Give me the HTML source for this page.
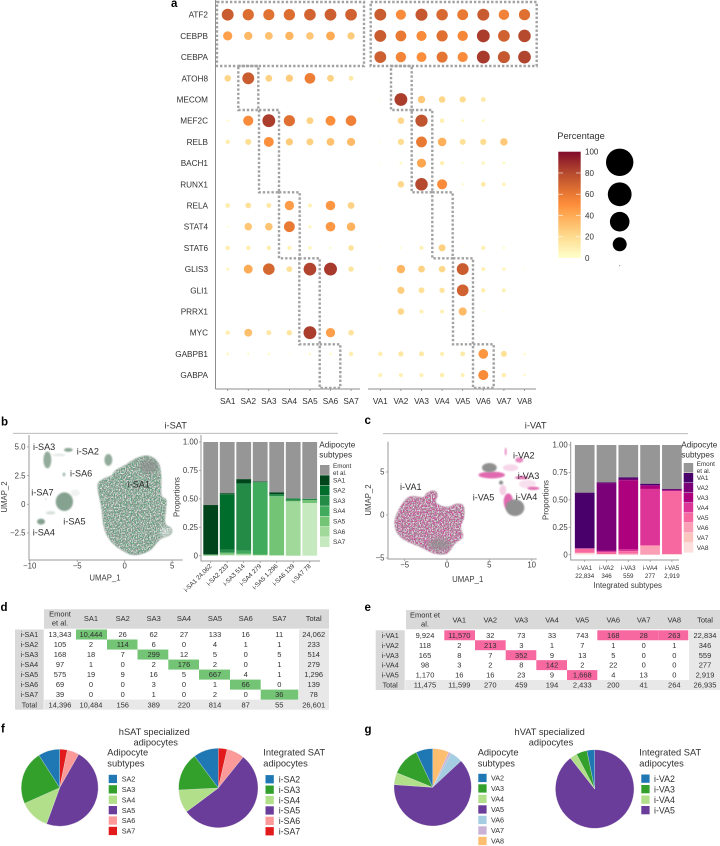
<!DOCTYPE html>
<html lang="en">
<head>
<meta charset="utf-8">
<title>Adipocyte subtypes figure</title>
<style>
html,body{margin:0;padding:0;background:#fff;width:720px;height:846px;overflow:hidden}
svg{display:block;font-family:"Liberation Sans",sans-serif;fill:#303030}
.pl{font-weight:bold;font-size:11.5px;fill:#000}
.hd{font-size:9.3px}
.cl{font-size:9.1px;fill:#2a2a2a}
.ax{font-size:7.8px;fill:#3c3c3c}
.dr{fill:none;stroke:#a2a2a2;stroke-width:2.4;stroke-dasharray:2.4 1.9}
</style>
</head>
<body>
<svg id="figure" width="720" height="846" viewBox="0 0 720 846" xmlns="http://www.w3.org/2000/svg">
<defs>
<linearGradient id="pct-grad" x1="0" y1="1" x2="0" y2="0">
<stop offset="0" stop-color="#ffffcc"/><stop offset=".2" stop-color="#fedc90"/><stop offset=".4" stop-color="#feab55"/><stop offset=".5" stop-color="#fd8f3c"/><stop offset=".6" stop-color="#e97a33"/><stop offset=".8" stop-color="#b64a2e"/><stop offset="1" stop-color="#7f0b2b"/>
</linearGradient>
<filter id="soft-1" x="-20%" y="-20%" width="140%" height="140%"><feGaussianBlur stdDeviation="0.9"/></filter>
<filter id="soft-2" x="-40%" y="-40%" width="180%" height="180%"><feGaussianBlur stdDeviation="2.2"/></filter>
<filter id="speck-green" x="0" y="0" width="100%" height="100%" color-interpolation-filters="sRGB"><feGaussianBlur in="SourceGraphic" stdDeviation="0.9" result="shape"/><feTurbulence type="fractalNoise" baseFrequency="0.71 0.83" numOctaves="2" seed="4"/><feColorMatrix values="0 0 0 0 .24  0 0 0 0 .66  0 0 0 0 .42  3.6 0 0 0 -1.55"/><feComposite in2="shape" operator="in"/></filter>
<filter id="speck-white" x="0" y="0" width="100%" height="100%" color-interpolation-filters="sRGB"><feGaussianBlur in="SourceGraphic" stdDeviation="0.9" result="shape"/><feTurbulence type="fractalNoise" baseFrequency="0.83 0.67" numOctaves="2" seed="11"/><feColorMatrix values="0 0 0 0 .9  0 0 0 0 .9  0 0 0 0 .9  0 3.6 0 0 -1.55"/><feComposite in2="shape" operator="in"/></filter>
<filter id="speck-pink" x="0" y="0" width="100%" height="100%" color-interpolation-filters="sRGB"><feGaussianBlur in="SourceGraphic" stdDeviation="0.9" result="shape"/><feTurbulence type="fractalNoise" baseFrequency="0.73 0.79" numOctaves="2" seed="7"/><feColorMatrix values="0 0 0 0 .86  0 0 0 0 .22  0 0 0 0 .6  4 0 0 0 -1.6"/><feComposite in2="shape" operator="in"/></filter>
</defs>

<text class="pl" x="171" y="7">a</text>
<text class="pl" x="1" y="425.5">b</text>
<text class="pl" x="364.5" y="424">c</text>
<text class="pl" x="0.5" y="611">d</text>
<text class="pl" x="364.5" y="611">e</text>
<text class="pl" x="1" y="732.5">f</text>
<text class="pl" x="364.5" y="733">g</text>

<!-- panel a frames -->
<g id="dotplot"></g>
<g>
<rect class="dr" x="217" y="2" width="147" height="64"/>
<rect class="dr" x="370.7" y="2" width="166" height="64"/>
<rect class="dr" x="238.3" y="66" width="20" height="44"/>
<rect class="dr" x="259" y="110" width="20" height="82.3"/>
<rect class="dr" x="279" y="192.3" width="20.7" height="66"/>
<rect class="dr" x="299.3" y="258.3" width="20.4" height="86"/>
<rect class="dr" x="319.7" y="344.3" width="20.6" height="43.7"/>
<rect class="dr" x="391" y="66" width="20.7" height="44"/>
<rect class="dr" x="411.7" y="110" width="20.6" height="82.3"/>
<rect class="dr" x="432.3" y="192.3" width="20.4" height="66"/>
<rect class="dr" x="453" y="258.3" width="20" height="86"/>
<rect class="dr" x="473" y="344.3" width="20.7" height="43.7"/>
</g>

<!-- percentage legend -->
<g>
<text x="557.3" y="139" font-size="9.3">Percentage</text>
<rect x="558.3" y="151.7" width="22.4" height="106.3" fill="url(#pct-grad)"/>
<g id="pct-ticks"></g>
<circle cx="619.7" cy="162.3" r="13.7" fill="#000"/>
<circle cx="619.7" cy="194.3" r="11.9" fill="#000"/>
<circle cx="619.7" cy="221.7" r="9.8" fill="#000"/>
<circle cx="619.7" cy="244.3" r="7" fill="#000"/>
<circle cx="619.7" cy="265.7" r="0.5" fill="#555"/>
</g>

<!-- panel b -->
<text class="hd" x="175.7" y="428.7" text-anchor="middle">i-SAT</text>
<line x1="13" x2="338" y1="433.3" y2="433.3" stroke="#b0b0b0" stroke-width="0.9"/>
<g id="umap-sat"></g>
<text class="ax" transform="translate(7,497) rotate(-90)" text-anchor="middle">UMAP_2</text>
<text class="ax" x="105" y="580.5" text-anchor="middle">UMAP_1</text>
<text class="cl" x="33" y="450">i-SA3</text>
<text class="cl" x="76.7" y="454.7">i-SA2</text>
<text class="cl" x="70" y="476.7">i-SA6</text>
<text class="cl" x="127.7" y="487.7">i-SA1</text>
<text class="cl" x="31.3" y="495.3">i-SA7</text>
<text class="cl" x="63.3" y="524.7">i-SA5</text>
<text class="cl" x="32.7" y="535.7">i-SA4</text>
<g id="bars-sat"></g>
<text class="ax" transform="translate(179.5,497) rotate(-90)" text-anchor="middle">Proportions</text>
<text x="319.3" y="447.7" font-size="8.2">Adipocyte</text>
<text x="319.3" y="457.3" font-size="8.2">subtypes</text>

<!-- panel c -->
<text class="hd" x="535.7" y="428.7" text-anchor="middle">i-VAT</text>
<line x1="383" x2="688" y1="433.7" y2="433.7" stroke="#b0b0b0" stroke-width="0.9"/>
<g id="umap-vat"></g>
<text class="ax" transform="translate(371,500) rotate(-90)" text-anchor="middle">UMAP_2</text>
<text class="ax" x="467.7" y="582" text-anchor="middle">UMAP_1</text>
<text class="cl" x="513" y="458.3">i-VA2</text>
<text class="cl" x="517.7" y="479">i-VA3</text>
<text class="cl" x="400" y="490">i-VA1</text>
<text class="cl" x="515.7" y="500">i-VA4</text>
<text class="cl" x="472.7" y="500.7">i-VA5</text>
<g id="bars-vat"></g>
<text class="ax" transform="translate(548.5,500) rotate(-90)" text-anchor="middle">Proportions</text>
<text class="ax" x="627.7" y="588" text-anchor="middle">Integrated subtypes</text>
<text x="681.3" y="447.7" font-size="8.2">Adipocyte</text>
<text x="681.3" y="457.3" font-size="8.2">subtypes</text>

<!-- tables -->
<g id="table-d"></g>
<g id="table-e"></g>

<!-- pies -->
<text class="hd" x="154.3" y="735" text-anchor="middle">hSAT specialized</text>
<text class="hd" x="155.7" y="745.7" text-anchor="middle">adipocytes</text>
<text class="hd" x="549.7" y="735" text-anchor="middle">hVAT specialized</text>
<text class="hd" x="551" y="745.7" text-anchor="middle">adipocytes</text>
<text class="hd" x="107.3" y="755.7">Adipocyte</text>
<text class="hd" x="107.3" y="766.3">subtypes</text>
<text class="hd" x="263.3" y="755.7">Integrated SAT</text>
<text class="hd" x="263.3" y="766.3">adipocytes</text>
<text class="hd" x="477.7" y="755.7">Adipocyte</text>
<text class="hd" x="477.7" y="766.3">subtypes</text>
<text class="hd" x="639.3" y="755.7">Integrated SAT</text>
<text class="hd" x="639.3" y="766.3">adipocytes</text>
<g id="pies"></g>
</svg>

<script>
// ---------- panel a data (percentage per gene) ----------
const genes = ['ATF2','CEBPB','CEBPA','ATOH8','MECOM','MEF2C','RELB','BACH1','RUNX1','RELA','STAT4','STAT6','GLIS3','GLI1','PRRX1','MYC','GABPB1','GABPA'];
const satColumns = ['SA1','SA2','SA3','SA4','SA5','SA6','SA7'];
const vatColumns = ['VA1','VA2','VA3','VA4','VA5','VA6','VA7','VA8'];
const satPercent = [
 [72,65,63,65,69,71,70],
 [44,35,31,36,29,40,27],
 [0,0,0,0,0,0,0],
 [22,72,24,27,58,24,12],
 [0,0,0,0,0,0,0],
 [3,52,84,64,24,50,57],
 [10,19,50,27,25,31,34],
 [0,0,0,0,0,0,0],
 [0,0,0,0,0,0,0],
 [11,17,13,45,8,47,24],
 [2,29,30,60,5,47,37],
 [10,10,10,8,6,3,16],
 [5,40,68,17,82,85,15],
 [0,0,0,0,0,0,0],
 [0,0,0,0,0,0,0],
 [10,32,13,15,84,44,16],
 [4,3,3,1,3,3,10],
 [0,0,0,0,0,0,0]
];
const vatPercent = [
 [72,52,74,67,60,73,56,64],
 [72,60,52,64,54,84,70,80],
 [71,55,50,62,52,85,74,82],
 [0,0,0,0,0,0,0,0],
 [1,84,28,22,20,12,0,0.5],
 [0,22,76,10,4,4,0,0],
 [1,20,60,38,18,20,28,0.5],
 [1,4,42,9,2,6,4,0.5],
 [0.5,22,80,52,3,12,7,0],
 [0,0,0,0,0,0,0,0],
 [0,0,0,0,0,0,0,0],
 [1,2,8,25,1,9,3,0.5],
 [1,36,24,22,72,8,6,1],
 [0.5,26,18,15,70,10,8,0],
 [0,22,8,8,34,2,1,0],
 [0,0,0,0,0,0,0,0],
 [10,14,13,9,12,48,18,3],
 [8,8,8,10,8,52,10,3]
];
const colorbarTicks = [0,20,40,60,80,100];

// ---------- overlap tables (also drive the stacked bars) ----------
const satHeader = ['SA1','SA2','SA3','SA4','SA5','SA6','SA7','Total'];
const satRowLabels = ['i-SA1','i-SA2','i-SA3','i-SA4','i-SA5','i-SA6','i-SA7','Total'];
const satCounts = [
 [13343,10444,26,62,27,133,16,11,24062],
 [105,2,114,6,0,4,1,1,233],
 [168,18,7,299,12,5,0,5,514],
 [97,1,0,2,176,2,0,1,279],
 [575,19,9,16,5,667,4,1,1296],
 [69,0,0,3,0,1,66,0,139],
 [39,0,0,1,0,2,0,36,78],
 [14396,10484,156,389,220,814,87,55,26601]
];
const vatHeader = ['VA1','VA2','VA3','VA4','VA5','VA6','VA7','VA8','Total'];
const vatRowLabels = ['i-VA1','i-VA2','i-VA3','i-VA4','i-VA5','Total'];
const vatCounts = [
 [9924,11570,32,73,33,743,168,28,263,22834],
 [118,2,213,3,1,7,1,0,1,346],
 [165,8,7,352,9,13,5,0,0,559],
 [98,3,2,8,142,2,22,0,0,277],
 [1170,16,16,23,9,1668,4,13,0,2919],
 [11475,11599,270,459,194,2433,200,41,264,26935]
];
const proportionTicks = [0,0.25,0.5,0.75,1];
const proportionTickLabels = ['0','0.25','0.50','0.75','1.00'];
const satStackColors = ['#969696','#00441b','#006d2c','#238b45','#41ab5d','#74c476','#a1d99b','#c7e9c0'];
const vatStackColors = ['#969696','#49006a','#7a0177','#ae017e','#dd3497','#f768a1','#fa9fb5','#fcc5c0','#fde0dd'];

// ---------- pies ----------
const pieSatSubLabels = ['SA2','SA3','SA4','SA5','SA6','SA7'];
const pieSatSubValues = [156,389,220,814,87,55];
const pieSatIntLabels = ['i-SA2','i-SA3','i-SA4','i-SA5','i-SA6','i-SA7'];
const pieSatIntValues = [10.2,15.6,9.4,54,7.2,3.6];
const pieVatSubLabels = ['VA2','VA3','VA4','VA5','VA6','VA7','VA8'];
const pieVatSubValues = [270,459,194,2433,200,41,264];
const pieVatIntLabels = ['i-VA2','i-VA3','i-VA4','i-VA5'];
const pieVatIntValues = [3.2,4.4,3,89.4];
const pieColorsSat = ['#1f78b4','#33a02c','#b2df8a','#6a3d9a','#fb9a99','#e31a1c'];
const pieColorsVat = ['#1f78b4','#33a02c','#b2df8a','#6a3d9a','#a6cee3','#cab2d6','#fdbf6f'];

// ---------- UMAP cloud outlines, in UMAP units ----------
const satCloudX = [-1.02,0.04,1.26,2.49,3.54,3.82,3.85,4.35,4.32,4.25,4.95,4.77,3.72,2.67,1.09,-0.32,-1.54,-2.18,-2.42,-2.84,-2.25,-1.37];
const satCloudY = [2.9,3.4,4.01,4.22,3.58,2.41,0.81,0.38,-0.49,-1.66,-2.15,-2.67,-3.05,-3.98,-4.42,-3.98,-3.11,-1.95,-0.35,1.6,2.2,2.5];
const satBlobX = [-1.72,-8.14,-5.93,-6.39,-6.35,-8.81,-7.8,-8.3,-6.9,-5.2];
const satBlobY = [3.87,3.87,4.74,2.6,0.23,-1.51,-0.75,0.45,4.3,1.0];
const satBlobRx = [0.42,0.42,0.46,0.14,0.91,0.42,0.5,0.08,0.7,0.5];
const satBlobRy = [0.52,0.73,0.17,0.17,0.81,0.26,0.15,0.08,0.12,0.3];
const satBlobAlpha = [0.85,0.85,0.9,0.7,0.95,0.95,0.3,0.5,0.2,0.12];
const vatCloudX = [-6.14,-5.35,-4.37,-2.8,-2.4,-1.54,-1.14,-1.3,-0.04,1.14,1.93,2.01,1.6,1.85,0.94,-0.04,-1.42,-3.19,-4.96,-5.94];
const vatCloudY = [-0.58,1.16,2.13,2.05,2.52,2.83,2.33,1.43,0.9,1.28,1.05,-0.19,-1.36,-2.52,-3.29,-4.46,-4.46,-3.68,-2.91,-1.94];
const vatGrayX = [5.0,8.03,6.38];
const vatGrayY = [5.5,0.85,3.76];
const vatGrayRx = [0.87,1.1,0.24];
const vatGrayRy = [0.54,0.97,0.23];
const vatPinkX = [5.28,7.24,8.82,10.2,8.54,6.93,7.5,9.5,6.6];
const vatPinkY = [4.65,1.55,4.34,3.1,6.4,7.36,5.5,3.6,2.9];
const vatPinkRx = [1.57,0.55,0.79,0.71,0.47,0.12,0.9,1.0,0.4];
const vatPinkRy = [0.39,0.97,0.19,0.19,0.31,0.47,0.4,0.5,0.6];
const vatPinkAlpha = [0.95,0.95,0.9,0.9,0.75,0.7,0.25,0.2,0.3];
const umapSatXTicks = [-10,-5,0,5];
const umapSatYTicks = [-2.5,0,2.5,5];
const umapSatYTickLabels = ['\u22122.5','0','2.5','5.0'];
const umapVatXTicks = [-5,0,5,10];
const umapVatYTicks = [-5,0,5];
const umapVatYTickLabels = ['\u22125','0','5'];

// ---------- helpers ----------
const NS = 'http://www.w3.org/2000/svg';
function add(parent, tag, attrs, txt) {
  const el = document.createElementNS(NS, tag);
  for (const k in attrs) el.setAttribute(k, attrs[k]);
  if (txt !== undefined) el.textContent = txt;
  parent.appendChild(el);
  return el;
}
const slug = s => String(s).toLowerCase().replace(/[^a-z0-9]+/g, '-');
function hex(c){return [1,3,5].map(i=>parseInt(c.substr(i,2),16));}
const colorPos = [0,20,40,50,60,80,100];
const colorVal = ['#ffffcc','#fedc90','#feab55','#fd8f3c','#e97a33','#b64a2e','#7f0b2b'];
function pctColor(p){
  let i = 0;
  while (i < colorPos.length - 2 && p > colorPos[i+1]) i++;
  const t = (p - colorPos[i]) / (colorPos[i+1] - colorPos[i]);
  const a = hex(colorVal[i]), b = hex(colorVal[i+1]);
  return 'rgb(' + a.map((v,j)=>Math.round(v + (b[j]-v)*t)).join(',') + ')';
}

// ---------- panel a ----------
(function(){
  const g = document.getElementById('dotplot');
  const rowY = i => 14.7 + i * 21.2;
  const satX = i => 227.7 + i * 20.56;
  const vatX = i => 380.3 + i * 20.6;
  const radius = p => 7 * Math.sqrt(p / 100);
  const axis = [[215.5,0,215.5,389],[215.5,389,360,389],[368,389,536,389]];
  axis.forEach((c,i)=>{
    const l = add(g,'line',{x1:c[0],y1:c[1],x2:c[2],y2:c[3],stroke:'#8c8c8c','stroke-width':1});
    
    
  });
  genes.forEach((gene,r)=>{
    const t = add(g,'text',{x:208,y:rowY(r)+3,'text-anchor':'end','font-size':8.2},gene);
    
    
    [[satPercent,satColumns,satX],[vatPercent,vatColumns,vatX]].forEach(set=>{
      set[0][r].forEach((p,c)=>{
        if (!p) return;
        const d = add(g,'circle',{cx:set[2](c),cy:rowY(r),r:radius(p),fill:pctColor(p)});
        
        
      });
    });
  });
  [[satColumns,satX],[vatColumns,vatX]].forEach(set=>{
    set[0].forEach((lab,i)=>{
      const tk = add(g,'line',{x1:set[1](i),x2:set[1](i),y1:389,y2:391,stroke:'#8c8c8c','stroke-width':0.8});
      
      
      const t = add(g,'text',{x:set[1](i),y:404,'text-anchor':'middle','font-size':8.2},lab);
      
      
    });
  });
  const tg = document.getElementById('pct-ticks');
  const barY = v => 258 - v / 100 * 106.3;
  colorbarTicks.forEach(v=>{
    if (v > 0 && v < 100) {
      const a = add(tg,'line',{x1:558.3,x2:563,y1:barY(v),y2:barY(v),stroke:'#fff','stroke-width':0.7,opacity:0.8});
      
      
      const b = add(tg,'line',{x1:576,x2:580.7,y1:barY(v),y2:barY(v),stroke:'#fff','stroke-width':0.7,opacity:0.8});
      
      
    }
    const t = add(tg,'text',{x:585,y:barY(v)+2.8,'font-size':8},v);
    
    
  });
})();

// ---------- UMAP plots ----------
function outlinePath(xs, ys, fx, fy){
  const pts = xs.map((x,i)=>[fx(x),fy(ys[i])]);
  const n = pts.length;
  let d = 'M' + pts[0][0].toFixed(1) + ' ' + pts[0][1].toFixed(1);
  for (let i = 0; i < n; i++) {
    const p0 = pts[(i-1+n)%n], p1 = pts[i], p2 = pts[(i+1)%n], p3 = pts[(i+2)%n];
    const c1x = p1[0] + (p2[0]-p0[0])/6, c1y = p1[1] + (p2[1]-p0[1])/6;
    const c2x = p2[0] - (p3[0]-p1[0])/6, c2y = p2[1] - (p3[1]-p1[1])/6;
    d += 'C' + [c1x,c1y,c2x,c2y,p2[0],p2[1]].map(v=>v.toFixed(1)).join(' ');
  }
  return d + 'Z';
}
function umapAxes(g, o){
  const a = add(g,'path',{d:'M'+o.x0+' '+o.yTop+'V'+o.y0+'H'+o.xEnd,fill:'none',stroke:'#999','stroke-width':1});
  
  
  o.xTicks.forEach(v=>{
    const tk = add(g,'line',{x1:o.fx(v),x2:o.fx(v),y1:o.y0,y2:o.y0+2,stroke:'#999','stroke-width':0.8});
    
    
    const t = add(g,'text',{x:o.fx(v),y:o.y0+8.5,'text-anchor':'middle','class':'ax','font-size':7},String(v).replace('-','\u2212'));
    
    
  });
  o.yTicks.forEach((v,i)=>{
    const tk = add(g,'line',{x1:o.x0-2,x2:o.x0,y1:o.fy(v),y2:o.fy(v),stroke:'#999','stroke-width':0.8});
    
    
    const t = add(g,'text',{x:o.x0-3.5,y:o.fy(v)+2.7,'text-anchor':'end','class':'ax'},o.yLabels[i]);
    
    
  });
}
function speckled(g, maker, base, filters, name){
  const b = maker();
  b.setAttribute('fill', base);
  b.setAttribute('filter', 'url(#soft-1)');
  
  
  filters.forEach(f=>{
    const s = maker();
    s.setAttribute('fill', '#000');
    s.setAttribute('filter', 'url(#' + f + ')');
    
    
  });
}
(function(){
  const g = document.getElementById('umap-sat');
  const fx = v => 124.7 + v * 9.5;
  const fy = v => 504.3 - v * 11.47;
  const d = outlinePath(satCloudX, satCloudY, fx, fy);
  speckled(g, ()=>add(g,'path',{d:d}), '#8f918f', ['speck-green','speck-white'], 'i-sa1-cloud');
  const dark = add(g,'ellipse',{cx:fx(2.5),cy:fy(3.3),rx:9,ry:7,fill:'#8c8c8c',opacity:0.7,filter:'url(#soft-2)'});
  
  
  const pale = add(g,'ellipse',{cx:fx(4.3),cy:fy(-2.4),rx:6,ry:5,fill:'#fff',opacity:0.5,filter:'url(#soft-2)'});
  
  
  satBlobX.forEach((x,i)=>{
    const b = add(g,'ellipse',{cx:fx(x),cy:fy(satBlobY[i]),rx:satBlobRx[i]*9.5,ry:satBlobRy[i]*11.47,fill:'#7f9d8a',opacity:satBlobAlpha[i],filter:'url(#soft-1)'});
    
    
  });
  umapAxes(g,{x0:29,y0:560,yTop:435,xEnd:182.7,fx:fx,fy:fy,xTicks:umapSatXTicks,yTicks:umapSatYTicks,yLabels:umapSatYTickLabels});
})();
(function(){
  const g = document.getElementById('umap-vat');
  const fx = v => 447 + v * 8.47;
  const fy = v => 515 - v * 8.6;
  const d = outlinePath(vatCloudX, vatCloudY, fx, fy);
  speckled(g, ()=>add(g,'path',{d:d}), '#8e8e8e', ['speck-pink','speck-white'], 'i-va1-cloud');
  const low = add(g,'ellipse',{cx:fx(-0.9),cy:fy(-3.4),rx:11,ry:5.5,fill:'#8e8e8e',opacity:0.75,filter:'url(#soft-2)'});
  
  
  vatPinkX.forEach((x,i)=>{
    const b = add(g,'ellipse',{cx:fx(x),cy:fy(vatPinkY[i]),rx:vatPinkRx[i]*8.47,ry:vatPinkRy[i]*8.6,fill:'#df62ac',opacity:vatPinkAlpha[i],filter:'url(#soft-1)'});
    
    
  });
  vatGrayX.forEach((x,i)=>{
    const el = add(g,'ellipse',{cx:fx(x),cy:fy(vatGrayY[i]),rx:vatGrayRx[i]*8.47,ry:vatGrayRy[i]*8.6,fill:'#909090',filter:'url(#soft-1)'});
    
    
  });
  umapAxes(g,{x0:388,y0:559,yTop:441.7,xEnd:536.7,fx:fx,fy:fy,xTicks:umapVatXTicks,yTicks:umapVatYTicks,yLabels:umapVatYTickLabels});
})();

// ---------- stacked bars ----------
function stackedBars(o){
  const g = o.g;
  const fy = v => o.yZero - v * o.yScale;
  const ax = add(g,'path',{d:'M'+o.x0+' '+o.yTop+'V'+o.yAxis+'H'+o.xEnd,fill:'none',stroke:'#999','stroke-width':1});
  
  
  proportionTicks.forEach((v,i)=>{
    const tk = add(g,'line',{x1:o.x0-2,x2:o.x0,y1:fy(v),y2:fy(v),stroke:'#999','stroke-width':0.8});
    
    
    const t = add(g,'text',{x:o.x0-3,y:fy(v)+2.7,'text-anchor':'end','class':'ax'},proportionTickLabels[i]);
    
    
  });
  o.rows.forEach((row,b)=>{
    const total = row[row.length-1];
    const cx = o.xFirst + b * o.xStep;
    let top = 1;
    row.slice(0,-1).forEach((count,s)=>{
      const h = count / total;
      const r = add(g,'rect',{x:cx-o.barW/2,y:fy(top),width:o.barW,height:h*o.yScale,fill:o.colors[s]});
      
      
      top -= h;
    });
    const tk = add(g,'line',{x1:cx,x2:cx,y1:o.yAxis,y2:o.yAxis+2,stroke:'#999','stroke-width':0.8});
    
    
    const totalStr = total.toLocaleString('en-US');
    if (o.rotated) {
      const t = add(g,'text',{transform:'translate('+(cx+1.5)+','+(o.yAxis+5.5)+') rotate(-45)','text-anchor':'end','font-size':6.3},o.labels[b]+' '+totalStr);
      
      
    } else {
      const t1 = add(g,'text',{x:cx,y:o.yAxis+10,'text-anchor':'middle','font-size':6.2},o.labels[b]);
      
      
      const t2 = add(g,'text',{x:cx,y:o.yAxis+18,'text-anchor':'middle','font-size':6.2},totalStr);
      
      
    }
  });
  o.series.forEach((name,s)=>{
    const y = o.legY + o.legStep * s;
    const sw = add(g,'rect',{x:o.legX,y:y,width:9.5,height:o.legStep-0.4,fill:o.colors[s]});
    
    
    if (s === 0) {
      const a = add(g,'text',{x:o.legX+13,y:y+3,'font-size':6.3},'Emont');
      
      
      const c = add(g,'text',{x:o.legX+13,y:y+10,'font-size':6.3},'et al.');
      
      
    } else {
      const t = add(g,'text',{x:o.legX+13,y:y+7,'font-size':6.5},name);
      
      
    }
  });
}
stackedBars({g:document.getElementById('bars-sat'),rows:satCounts.slice(0,7),labels:satRowLabels,series:['Emont et al.'].concat(satHeader.slice(0,7)),colors:satStackColors,
  x0:201,yTop:435,yAxis:561,xEnd:320,yZero:555.7,yScale:113.7,xFirst:210.7,xStep:16.5,barW:14.8,rotated:true,legX:320,legY:465,legStep:10.3});
stackedBars({g:document.getElementById('bars-vat'),rows:vatCounts.slice(0,5),labels:vatRowLabels,series:['Emont et al.'].concat(vatHeader.slice(0,8)),colors:vatStackColors,
  x0:570.7,yTop:441.7,yAxis:560,xEnd:679,yZero:554.7,yScale:109.7,xFirst:584.7,xStep:21.8,barW:19.7,rotated:false,legX:683.7,legY:463,legStep:10});

// ---------- tables ----------
function drawTable(o){
  const g = o.g;
  const rowTop = i => o.top + i * o.rowH;
  const nRows = o.rowLabels.length;
  const bottom = rowTop(nRows);
  const bgs = [
    [o.headX0,o.headY0,o.headX1-o.headX0,o.headY1-o.headY0,'#d9d9d9','table-header-band'],
    [o.labX0,o.top,o.labX1-o.labX0,bottom-o.top,'#d9d9d9','table-row-label-band'],
    [o.totX0,o.top,o.headX1-o.totX0,bottom-o.top,'#e8e8e8','table-total-column'],
    [o.labX1+0.6,rowTop(nRows-1),o.headX1-o.labX1-0.6,o.rowH,'#e8e8e8','table-total-row']
  ];
  bgs.forEach(b=>{
    const r = add(g,'rect',{x:b[0],y:b[1],width:b[2],height:b[3],fill:b[4]});
    
    
  });
  o.hilite.forEach(h=>{
    const r = add(g,'rect',{x:o.edges[h[1]],y:rowTop(h[0]),width:o.edges[h[1]+1]-o.edges[h[1]],height:o.rowH,fill:o.fill});
    
    
  });
  o.emontLines.forEach((s,i)=>{
    const t = add(g,'text',{x:o.cols[0],y:o.emontY[i],'text-anchor':'middle','font-size':7.5},s);
    
    
  });
  o.header.forEach((s,i)=>{
    const t = add(g,'text',{x:o.cols[i+1],y:o.headTextY,'text-anchor':'middle','font-size':7.5},s);
    
    
  });
  o.rowLabels.forEach((s,r)=>{
    const c = rowTop(r) + o.rowH/2 + 2.6;
    const t = add(g,'text',{x:(o.labX0+o.labX1)/2,y:c,'text-anchor':'middle','font-size':7.2},s);
    
    
    o.rows[r].forEach((v,i)=>{
      const n = add(g,'text',{x:o.cols[i],y:c,'text-anchor':'middle','font-size':7.5},v.toLocaleString('en-US'));
      
      
    });
  });
}
drawTable({g:document.getElementById('table-d'),rows:satCounts,rowLabels:satRowLabels,header:satHeader,fill:'#74c476',
  top:629.5,rowH:10.02,headX0:44,headX1:329,headY0:609.3,headY1:628.7,labX0:15,labX1:43.7,totX0:299,
  cols:[60,91,122.7,153.7,184,215,245.7,279.3,313.7],edges:[44,76,107,137.5,168.3,199,230,260.7,298.3,329],
  hilite:[[0,1],[1,2],[2,3],[3,4],[4,5],[5,6],[6,7]],emontLines:['Emont','et al.'],emontY:[616.5,625.5],headTextY:620.8});
drawTable({g:document.getElementById('table-e'),rows:vatCounts,rowLabels:vatRowLabels,header:vatHeader,fill:'#f768a1',
  top:630.3,rowH:9.95,headX0:406,headX1:720,headY0:610,headY1:629.3,labX0:375.7,labX1:404.7,totX0:689,
  cols:[425,459.3,490.3,521.3,552,582.3,613.3,643.7,674.3,705],edges:[406,444.3,475,505.7,536.3,567,597.3,628,658.3,688.3,720],
  hilite:[[0,1],[0,6],[0,7],[0,8],[1,2],[2,3],[3,4],[4,5]],emontLines:['Emont et','al.'],emontY:[617.5,626.5],headTextY:622.3});

// ---------- pies ----------
function pie(o){
  const g = document.getElementById('pies');
  const total = o.values.reduce((a,b)=>a+b,0);
  let angle = 0;
  for (let i = o.values.length - 1; i >= 0; i--) {
    const a0 = angle, a1 = angle + o.values[i] / total * 2 * Math.PI;
    angle = a1;
    const px = a => o.cx + o.r * Math.sin(a), py = a => o.cy - o.r * Math.cos(a);
    const d = 'M'+o.cx+' '+o.cy+'L'+px(a0)+' '+py(a0)+'A'+o.r+' '+o.r+' 0 '+(a1-a0>Math.PI?1:0)+' 1 '+px(a1)+' '+py(a1)+'Z';
    const s = add(g,'path',{d:d,fill:o.colors[i],stroke:'#e8e8e8','stroke-width':0.3});
    
    
  }
  o.labels.forEach((lab,i)=>{
    const y = o.legY + o.legStep * i;
    const sw = add(g,'rect',{x:o.swX,y:y-4.2,width:8.3,height:8.3,fill:o.colors[i]});
    
    
    const t = add(g,'text',{x:o.txtX,y:y+o.fs*0.36,'font-size':o.fs},lab);
    
    
  });
}
pie({values:pieSatSubValues,labels:pieSatSubLabels,colors:pieColorsSat,cx:59.7,cy:787.7,r:38.5,swX:108.7,txtX:121.7,legY:779,legStep:10.4,fs:7.2});
pie({values:pieSatIntValues,labels:pieSatIntLabels,colors:pieColorsSat,cx:218.3,cy:788,r:39.7,swX:265.5,txtX:278.7,legY:779.3,legStep:10.4,fs:8.8});
pie({values:pieVatSubValues,labels:pieVatSubLabels,colors:pieColorsVat,cx:432.7,cy:787.3,r:38.7,swX:478.3,txtX:491,legY:778,legStep:10.5,fs:7.2});
pie({values:pieVatIntValues,labels:pieVatIntLabels,colors:pieColorsVat,cx:594.7,cy:789,r:39.3,swX:641.3,txtX:654,legY:778.7,legStep:10.5,fs:8.8});
</script>
</body>
</html>
